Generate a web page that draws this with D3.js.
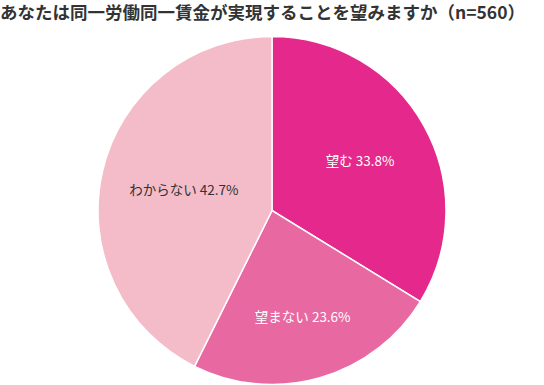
<!DOCTYPE html>
<html>
<head>
<meta charset="utf-8">
<script src="https://cdn.jsdelivr.net/npm/d3@7"></script>
<style>
  body { margin: 0; background: #fff; }
  svg { display: block; }
</style>
</head>
<body>
<div id="chart"></div>
<script>
// data
var titleText = "あなたは同一労働同一賃金が実現することを望みますか（n=560）";
var categories = ["望む", "望まない", "わからない"];
var values = [33.8, 23.6, 42.7];
var colors = ["#e5288b", "#e868a2", "#f4bcc8"];
var labelColors = ["#fff", "#fff", "#333"];

var w = 544, h = 385;
var cx = 272, cy = 210.5, r = 174;
// label distance from center, as share of radius
var labelR = [0.58, 0.64, 0.52];

var svg = d3.select("#chart").append("svg")
    .attr("width", w)
    .attr("height", h);

svg.append("text")
    .attr("x", 0)
    .attr("y", 19)
    .attr("font-family", "Noto Sans CJK JP")
    .attr("font-weight", 700)
    .attr("font-size", "17.5px")
    .attr("fill", "#333")
    .text(titleText);

var pie = d3.pie().sort(null).value(function(d) { return d; });
var arc = d3.arc().innerRadius(0).outerRadius(r);

var g = svg.append("g").attr("transform", "translate(" + cx + "," + cy + ")");

var slices = g.selectAll("g.slice")
    .data(pie(values))
    .enter()
    .append("g")
    .attr("class", "slice");

slices.append("path")
    .attr("d", arc)
    .attr("fill", function(d, i) { return colors[i]; })
    .attr("stroke", "#fff")
    .attr("stroke-width", 1.5);

slices.append("text")
    .attr("transform", function(d, i) {
        var lr = r * labelR[i];
        var c = d3.arc().innerRadius(lr).outerRadius(lr).centroid(d);
        return "translate(" + c + ")";
    })
    .attr("text-anchor", "middle")
    .attr("dy", "0.35em")
    .attr("font-family", "Noto Sans CJK JP")
    .attr("font-size", "13.5px")
    .attr("fill", function(d, i) { return labelColors[i]; })
    .text(function(d, i) { return categories[i] + " " + values[i].toFixed(1) + "%"; });
</script>
</body>
</html>
